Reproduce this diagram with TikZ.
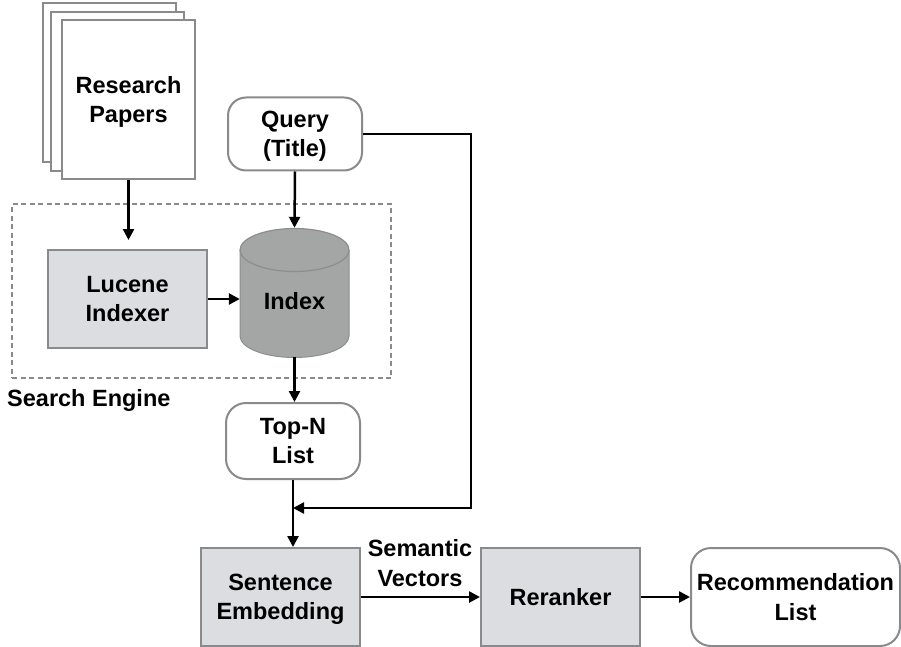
\documentclass[tikz,border=0pt]{standalone}
\usepackage{fontspec}
\setmainfont{Liberation Sans}
\usetikzlibrary{arrows.meta}
\definecolor{edgegray}{HTML}{888A8C}
\definecolor{boxfill}{HTML}{DCDDE0}
\definecolor{cylfill}{HTML}{A4A6A6}
\definecolor{cyledge}{HTML}{8C8E8E}
\tikzset{
  txt/.style={font=\fontsize{23.5}{29.5}\selectfont\bfseries, align=center, inner sep=0pt, text depth=0pt},
  page/.style={draw=edgegray, line width=2pt, fill=white, minimum width=133pt, minimum height=159pt, inner sep=0pt},
  procbox/.style={txt, draw=edgegray, line width=2pt, fill=boxfill, minimum width=159pt, minimum height=98pt},
  roundbox/.style={txt, draw=edgegray, line width=2pt, fill=white, rounded corners=18pt},
  arr/.style={line width=2.5pt, -{Triangle[length=11pt,width=11pt]}},
}
\begin{document}
\begin{tikzpicture}[x=1pt,y=-1pt]
\useasboundingbox (0,0) rectangle (901,647);

% search engine frame
\node[draw=edgegray, dash pattern=on 5pt off 3.5pt, line width=2.6pt,
      minimum width=379pt, minimum height=174pt, inner sep=0pt] (engine) at (201.5,291) {};
\node[txt, anchor=west] (enginelabel) at (7,398) {Search Engine};

% stack of papers
\node[page] (paper3) at (109.5,82.5) {};
\node[page] (paper2) at (117.5,91.5) {};
\node[page, txt, minimum width=133pt, minimum height=159pt] (papers) at (128.5,99.5) {Research\\Papers};

% query
\node[roundbox, minimum width=134pt, minimum height=73pt] (query) at (295,134) {Query\\(Title)};

% indexer
\node[procbox] (lucene) at (127.5,299) {Lucene\\Indexer};

% index cylinder
\fill[cylfill] (240,250) -- (240,336) arc[start angle=180, end angle=360, x radius=54.5pt, y radius=21.5pt]
  -- (349,250) arc[start angle=0, end angle=180, x radius=54.5pt, y radius=21.5pt] -- cycle;
\draw[cyledge, line width=1pt] (240,250) -- (240,336) arc[start angle=180, end angle=360, x radius=54.5pt, y radius=21.5pt] -- (349,250);
\draw[cyledge, line width=1.2pt] (294.5,250) ellipse[x radius=54.5pt, y radius=21.5pt];
\node[minimum width=109pt, minimum height=129pt, inner sep=0pt] (idx) at (294.5,292.5) {};
\node[txt] (idxlabel) at (294.5,301) {Index};

% top-N list
\node[roundbox, minimum width=134pt, minimum height=76pt, rounded corners=20pt] (topn) at (293,441) {Top-N\\List};

% bottom row
\node[procbox] (sent) at (280.5,597) {Sentence\\Embedding};
\node[procbox] (rerank) at (560.5,597) {Reranker};
\node[roundbox, minimum width=209pt, minimum height=98pt, rounded corners=20pt] (rec) at (795.5,597) {Recommendation\\List};
\node[txt] (semlabel) at (420,563) {Semantic\\Vectors};

% connectors
\draw[arr] (papers.south) -- (papers.south |- 0,240);
\draw[arr] (query.south) -- (idx.north);
\draw[arr] (lucene.east) -- (lucene.east -| idx.west);
\draw[arr] (idx.south) -- (idx.south |- topn.north);
\draw[arr] (topn.south) -- (topn.south |- sent.north);
\coordinate (bend) at (471,508);
\coordinate (join) at (293,508);
\draw[arr] (query.east) -| (bend) -- (join);
\draw[arr] (sent.east) -- (rerank.west);
\draw[arr] (rerank.east) -- (rec.west);
\end{tikzpicture}
\end{document}
